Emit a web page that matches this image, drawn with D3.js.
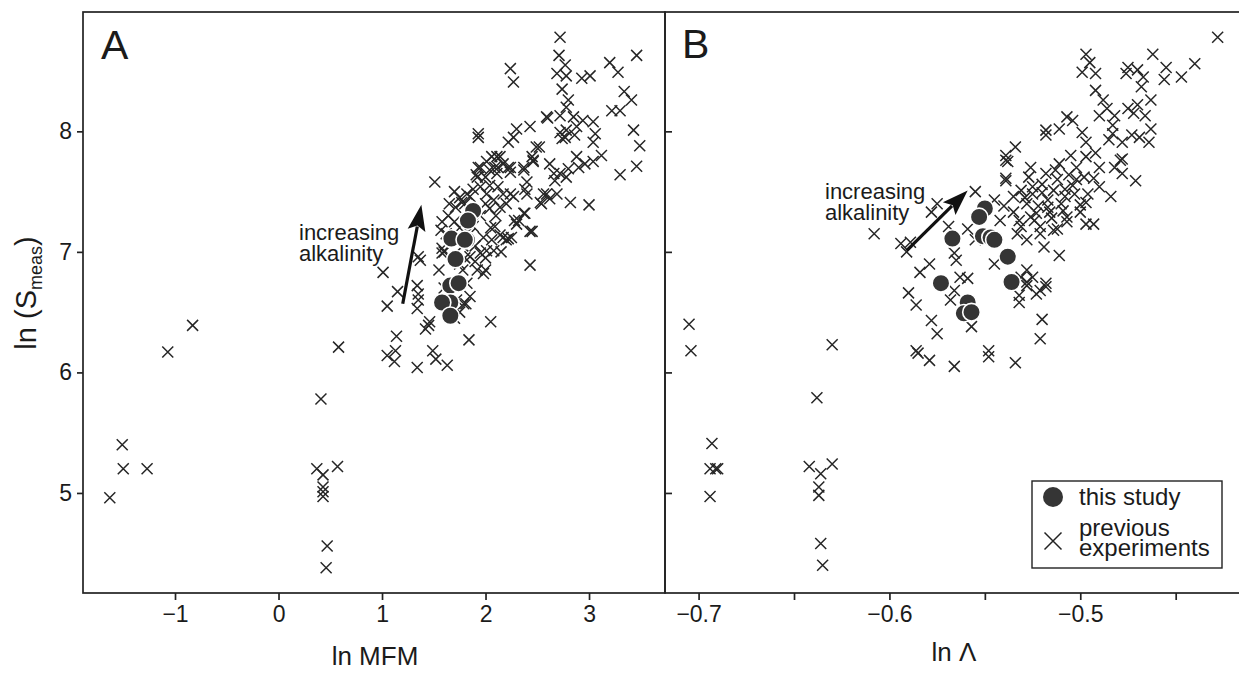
<!DOCTYPE html>
<html>
<head>
<meta charset="utf-8">
<script src="https://cdn.jsdelivr.net/npm/d3@7"></script>
<style>
  body { margin: 0; background: #fff; }
  svg { display: block; }
  text { font-family: "Liberation Sans", Arial, Helvetica, sans-serif; fill: #1b1b1b; }
</style>
</head>
<body>
<div id="chart"></div>
<script>
// ---- data ----
var yTicks = [5, 6, 7, 8];
var aTicks = [-1, 0, 1, 2, 3];
var bTicks = [-0.7, -0.65, -0.6, -0.55, -0.5, -0.45];
var bLabeled = [-0.7, -0.6, -0.5];

// panel A: ln MFM vs ln(Smeas)
var aPrevious = [
  [-1.63,4.96],[-1.51,5.40],[-1.50,5.20],[-1.27,5.20],[-1.07,6.17],[-0.83,6.39],
  [0.41,5.78],[0.37,5.20],[0.43,5.15],[0.43,5.05],[0.43,5.01],[0.43,4.97],[0.57,5.22],[0.58,6.21],[0.47,4.56],[0.46,4.38],
  [1.05,6.55],[1.15,6.67],[1.14,6.30],[1.05,6.14],[1.13,6.18],[1.12,6.09],[1.34,6.04],[1.42,6.36],[1.46,6.42],[1.49,6.18],
  [1.52,6.11],[1.63,6.06],[1.84,6.27],[2.05,6.42],[1.81,6.57],[1.34,6.53],[1.35,6.60],[1.34,6.72],[1.35,6.65],
  [1.51,7.58],[1.01,6.83],[1.35,6.96],[1.37,6.93],[1.45,6.39],
  [1.57,7.18],[1.64,7.30],[1.71,7.37],[1.77,7.41],[1.85,7.46],[1.91,7.64],[1.95,7.70],[2.04,7.68],[2.12,7.70],[2.24,7.70],
  [2.30,7.23],[2.22,7.11],[2.14,7.14],[2.06,7.10],[2.24,7.48],[2.28,7.26],
  [1.75,6.90],[1.85,6.96],[1.92,6.85],[1.98,6.82],[1.82,6.74],[1.85,6.63],[1.79,6.57],[1.98,7.12],[1.88,7.21],[1.58,7.03],[1.58,6.99],
  [2.72,8.78],[2.71,8.63],[2.24,8.52],[2.27,8.41],[2.69,8.48],[2.77,8.55],[2.78,8.46],[2.93,8.44],[3.01,8.46],[3.20,8.57],
  [3.28,8.49],[3.46,8.63],[2.74,8.35],[2.80,8.26],[2.78,8.20],[3.34,8.33],[3.41,8.26],[3.22,8.17],[3.30,8.17],[2.60,8.11],
  [2.72,8.13],[2.85,8.12],[2.94,8.09],[3.04,8.08],[2.88,8.04],[2.72,7.99],[2.77,7.95],[2.74,7.94],[2.78,8.01],[2.86,7.97],
  [3.06,7.98],[3.43,8.01],[3.49,7.88],[3.46,7.71],[3.30,7.64],
  [1.93,7.98],[1.93,7.95],[2.30,8.02],[2.43,8.04],[2.22,7.91],[2.27,7.95],[2.52,7.87],[3.04,7.91],[3.12,7.80],[2.88,7.79],
  [3.04,7.75],[2.96,7.73],[2.90,7.70],[2.80,7.69],[2.72,7.65],[2.78,7.62],[2.62,7.73],[2.66,7.65],[2.67,7.59],[2.69,7.48],
  [2.59,7.48],[2.54,7.40],[2.62,7.44],[2.82,7.41],[3.00,7.39],
  [2.45,7.79],[2.46,7.75],[2.37,7.70],[2.22,7.70],[2.14,7.79],[2.06,7.79],[2.01,7.75],[1.93,7.70],[2.09,7.70],[2.11,7.65],
  [2.00,7.62],[1.92,7.62],[2.40,7.58],[2.38,7.52],[2.40,7.48],[2.27,7.46],[2.17,7.48],[2.12,7.54],[2.04,7.55],[1.95,7.54],
  [1.88,7.52],[1.82,7.48],[2.01,7.48],[2.08,7.43],[2.14,7.37],[2.04,7.36],[2.38,7.32],[2.32,7.26],[2.45,7.17],[2.25,7.12],
  [2.17,7.12],[2.09,7.21],[2.08,7.01],[1.95,6.99],[2.00,6.85],[1.90,6.92],[2.43,6.89],[2.24,7.66],
  [2.49,7.87],[2.59,8.12],[2.56,7.48],[2.53,7.41],[2.37,7.32],[2.43,7.17],[2.20,7.10],[2.01,7.01],[2.17,7.73],[2.37,7.68],
  [2.46,7.76],[2.11,7.79],
  [1.62,7.15],[1.70,7.25],[1.75,7.20],[1.78,7.05],[1.80,6.95],[1.78,6.85],[1.72,6.60],[1.75,6.50],[1.70,6.45],[1.60,6.70],
  [1.55,6.85],[1.60,7.00],[1.85,7.15],[1.90,7.05],[1.95,7.30],[2.00,7.40],[1.80,7.40],[1.75,7.45],[1.70,7.50],[1.65,7.40],
  [1.58,7.25],[2.10,7.30],[2.20,7.40],[2.05,7.20],[2.15,7.00],[2.00,6.95]
];
var aStudy = [
  [1.88,7.34],[1.83,7.26],[1.67,7.11],[1.82,7.10],[1.80,7.10],[1.71,6.94],
  [1.66,6.72],[1.74,6.74],[1.66,6.58],[1.58,6.58],[1.66,6.47]
];

// panel B: ln Lambda vs ln(Smeas)
var bPrevious = [
  [-0.705,6.40],[-0.704,6.18],[-0.693,5.41],[-0.694,5.20],[-0.691,5.20],[-0.690,5.20],[-0.694,4.97],
  [-0.638,5.79],[-0.630,6.23],[-0.642,5.22],[-0.636,5.16],[-0.630,5.24],[-0.637,5.05],[-0.637,4.98],[-0.636,4.58],[-0.635,4.40],
  [-0.590,6.66],[-0.586,6.56],[-0.578,6.43],[-0.575,6.32],[-0.586,6.18],[-0.585,6.16],[-0.579,6.10],[-0.566,6.05],
  [-0.557,6.38],[-0.548,6.18],[-0.548,6.13],[-0.534,6.08],[-0.520,6.44],[-0.521,6.28],[-0.532,6.58],[-0.523,6.65],
  [-0.518,6.71],[-0.528,6.72],[-0.568,6.60],
  [-0.555,7.50],[-0.575,7.40],[-0.578,7.33],[-0.608,7.15],[-0.594,7.07],[-0.591,7.00],[-0.569,7.21],[-0.559,7.19],
  [-0.555,7.10],[-0.542,7.26],[-0.539,7.61],[-0.539,7.76],[-0.566,6.99],[-0.565,6.93],[-0.584,6.83],[-0.579,6.90],
  [-0.566,6.68],[-0.559,6.78],[-0.545,6.90],[-0.531,6.79],[-0.528,6.85],[-0.532,6.64],
  [-0.428,8.78],[-0.462,8.64],[-0.440,8.56],[-0.455,8.53],[-0.456,8.43],[-0.447,8.45],[-0.475,8.53],[-0.470,8.51],
  [-0.476,8.48],[-0.467,8.45],[-0.468,8.37],[-0.497,8.64],[-0.495,8.57],[-0.499,8.49],[-0.492,8.48],[-0.492,8.34],
  [-0.488,8.26],[-0.486,8.19],[-0.490,8.13],[-0.507,8.12],[-0.504,8.09],[-0.511,8.02],[-0.518,8.01],[-0.518,7.97],
  [-0.482,8.13],[-0.475,8.19],[-0.470,8.22],[-0.472,8.15],[-0.466,8.13],[-0.463,8.26],[-0.483,8.05],[-0.483,7.98],
  [-0.485,7.93],[-0.478,7.91],[-0.473,7.97],[-0.469,7.95],[-0.463,8.02],[-0.464,7.91],[-0.499,7.99],[-0.497,7.91],
  [-0.534,7.87],[-0.539,7.80],[-0.538,7.75],[-0.539,7.59],[-0.505,7.80],[-0.511,7.73],[-0.502,7.70],[-0.497,7.79],
  [-0.492,7.82],[-0.490,7.70],[-0.478,7.77],[-0.482,7.70],[-0.478,7.65],[-0.471,7.59],[-0.518,7.65],[-0.506,7.64],
  [-0.498,7.62],[-0.493,7.61],[-0.490,7.54],[-0.484,7.46],[-0.531,7.51],[-0.525,7.54],[-0.514,7.51],[-0.508,7.46],
  [-0.503,7.48],[-0.497,7.41],[-0.517,7.43],[-0.528,7.40],[-0.535,7.33],[-0.523,7.32],[-0.516,7.33],[-0.507,7.29],
  [-0.500,7.39],[-0.497,7.23],[-0.493,7.23],[-0.531,7.21],[-0.521,7.21],[-0.512,7.19],[-0.507,7.25],
  [-0.479,7.76],[-0.511,6.97],[-0.519,7.04],[-0.528,7.10],[-0.533,7.15],[-0.521,7.15],[-0.514,7.18],[-0.526,7.29],
  [-0.517,7.37],[-0.525,7.48],[-0.525,6.79],[-0.521,6.68],[-0.518,6.74],[-0.589,7.08],[-0.563,6.79],[-0.545,7.43],
  [-0.528,6.75],
  [-0.529,7.45],[-0.522,7.38],[-0.515,7.28],[-0.510,7.40],[-0.504,7.55],[-0.500,7.33],[-0.527,7.62],[-0.520,7.56],
  [-0.512,7.60],[-0.508,7.52],[-0.535,7.46],[-0.540,7.38],[-0.524,7.26],
  [-0.509,7.34],[-0.496,7.48],[-0.502,7.60],[-0.513,7.68],[-0.526,7.70],[-0.520,7.49],[-0.532,7.26]
];
var bStudy = [
  [-0.550,7.36],[-0.553,7.29],[-0.567,7.11],[-0.551,7.13],[-0.547,7.12],[-0.545,7.10],
  [-0.538,6.96],[-0.536,6.75],[-0.573,6.74],[-0.559,6.58],[-0.561,6.49],[-0.557,6.50]
];

// "increasing alkalinity" arrows, [from, to] in data units
var aArrow = [[1.20, 6.57], [1.38, 7.39]];
var bArrow = [[-0.591, 7.01], [-0.559, 7.51]];

// ---- layout ----
var width = 1239, height = 673;
var plotTop = 12, plotBottom = 593;
var aLeft = 83, mid = 665, bRight = 1240;
var ink = "#222";

var svg = d3.select("#chart").append("svg")
    .attr("width", width)
    .attr("height", height)
    .attr("xmlns", "http://www.w3.org/2000/svg");

svg.append("rect").attr("width", width).attr("height", height).attr("fill", "#fff");

var y = d3.scaleLinear().domain([4.17, 8.99]).range([plotBottom, plotTop]);
var xA = d3.scaleLinear().domain([-1.889, 3.734]).range([aLeft, mid]);
var xB = d3.scaleLinear().domain([-0.7176, -0.4163]).range([mid, bRight]);

function styleAxis(g, size) {
    g.attr("font-size", null).attr("font-family", null);
    g.select(".domain").remove();
    g.selectAll(".tick line").attr("stroke", ink).attr("stroke-width", 1.7);
    g.selectAll(".tick text").style("font-size", size + "px").attr("fill", "#1b1b1b");
}

// axes
var gAx = svg.append("g").attr("transform", "translate(0," + plotBottom + ")")
    .call(d3.axisBottom(xA).tickValues(aTicks).tickSize(7).tickPadding(6).tickFormat(d3.format("d")));
styleAxis(gAx, 23);

var gAy = svg.append("g").attr("transform", "translate(" + aLeft + ",0)")
    .call(d3.axisLeft(y).tickValues(yTicks).tickSize(6).tickPadding(5).tickFormat(d3.format("d")));
styleAxis(gAy, 23);

var gBx = svg.append("g").attr("transform", "translate(0," + plotBottom + ")")
    .call(d3.axisBottom(xB).tickValues(bTicks).tickSize(7).tickPadding(6)
        .tickFormat(function(d) {
            return bLabeled.some(function(v) { return Math.abs(v - d) < 1e-9; }) ? d3.format(".1f")(d) : "";
        }));
styleAxis(gBx, 23);

var gBy = svg.append("g").attr("transform", "translate(" + mid + ",0)")
    .call(d3.axisRight(y).tickValues(yTicks).tickSize(7).tickFormat(""));
styleAxis(gBy, 23);

// frames
svg.append("rect").attr("x", aLeft).attr("y", plotTop).attr("width", mid - aLeft).attr("height", plotBottom - plotTop)
    .attr("fill", "none").attr("stroke", ink).attr("stroke-width", 1.7);
svg.append("rect").attr("x", mid).attr("y", plotTop).attr("width", bRight - mid + 5).attr("height", plotBottom - plotTop)
    .attr("fill", "none").attr("stroke", ink).attr("stroke-width", 1.7);

var crossPath = "M-5.5,-5.5L5.5,5.5M5.5,-5.5L-5.5,5.5";

function drawPanel(x, prev, study, arrow) {
    var g = svg.append("g");

    g.selectAll("path.prev").data(prev).enter().append("path")
        .attr("class", "prev")
        .attr("d", crossPath)
        .attr("transform", function(d) { return "translate(" + x(d[0]) + "," + y(d[1]) + ")"; })
        .attr("fill", "none")
        .attr("stroke", "#262626")
        .attr("stroke-width", 1.5);

    g.selectAll("circle.study").data(study).enter().append("circle")
        .attr("class", "study")
        .attr("cx", function(d) { return x(d[0]); })
        .attr("cy", function(d) { return y(d[1]); })
        .attr("r", 8.8)
        .attr("fill", "#353535")
        .attr("stroke", "#fff")
        .attr("stroke-width", 1.6);

    // arrow
    var x0 = x(arrow[0][0]), y0 = y(arrow[0][1]);
    var x1 = x(arrow[1][0]), y1 = y(arrow[1][1]);
    var dx = x1 - x0, dy = y1 - y0, len = Math.sqrt(dx * dx + dy * dy);
    var ux = dx / len, uy = dy / len;
    var headLen = 26, headHalf = 9;
    var bx = x1 - ux * headLen, by = y1 - uy * headLen;
    g.append("line")
        .attr("x1", x0).attr("y1", y0)
        .attr("x2", bx + ux * 4).attr("y2", by + uy * 4)
        .attr("stroke", "#111").attr("stroke-width", 3.2);
    g.append("path")
        .attr("d", "M" + x1 + "," + y1 +
            "L" + (bx - uy * headHalf) + "," + (by + ux * headHalf) +
            "L" + (bx + ux * 5) + "," + (by + uy * 5) +
            "L" + (bx + uy * headHalf) + "," + (by - ux * headHalf) + "Z")
        .attr("fill", "#111");
    return g;
}

drawPanel(xA, aPrevious, aStudy, aArrow);
drawPanel(xB, bPrevious, bStudy, bArrow);

// annotation text
function note(xp, yp) {
    svg.append("text").attr("x", xp).attr("y", yp).style("font-size", "22px").text("increasing");
    svg.append("text").attr("x", xp).attr("y", yp + 21).style("font-size", "22px").text("alkalinity");
}
note(299, 240);
note(825, 199);

// panel letters
svg.append("text").attr("x", 101).attr("y", 59).style("font-size", "41px").text("A");
svg.append("text").attr("x", 682).attr("y", 58).style("font-size", "41px").text("B");

// axis titles
svg.append("text").attr("x", 375).attr("y", 665).attr("text-anchor", "middle")
    .style("font-size", "26px").text("ln MFM");
svg.append("text").attr("x", 954).attr("y", 661).attr("text-anchor", "middle")
    .style("font-size", "26px").text("ln \u039B");

var yl = svg.append("text")
    .attr("transform", "translate(36,293) rotate(-90)")
    .attr("text-anchor", "middle")
    .style("font-size", "29px");
yl.append("tspan").text("ln (S");
yl.append("tspan").attr("dy", 6).style("font-size", "18px").text("meas");
yl.append("tspan").attr("dy", -6).text(")");

// legend
var lg = svg.append("g");
lg.append("rect").attr("x", 1032).attr("y", 481).attr("width", 190).attr("height", 87)
    .attr("fill", "#fff").attr("stroke", ink).attr("stroke-width", 1.4);
lg.append("circle").attr("cx", 1053).attr("cy", 497).attr("r", 10).attr("fill", "#353535");
lg.append("text").attr("x", 1079).attr("y", 505).style("font-size", "24px").text("this study");
lg.append("path").attr("d", "M-8.5,-8.5L8.5,8.5M8.5,-8.5L-8.5,8.5")
    .attr("transform", "translate(1053,541)")
    .attr("fill", "none").attr("stroke", "#222").attr("stroke-width", 1.5);
lg.append("text").attr("x", 1079).attr("y", 536).style("font-size", "24px").text("previous");
lg.append("text").attr("x", 1079).attr("y", 556).style("font-size", "24px").text("experiments");
</script>
</body>
</html>
